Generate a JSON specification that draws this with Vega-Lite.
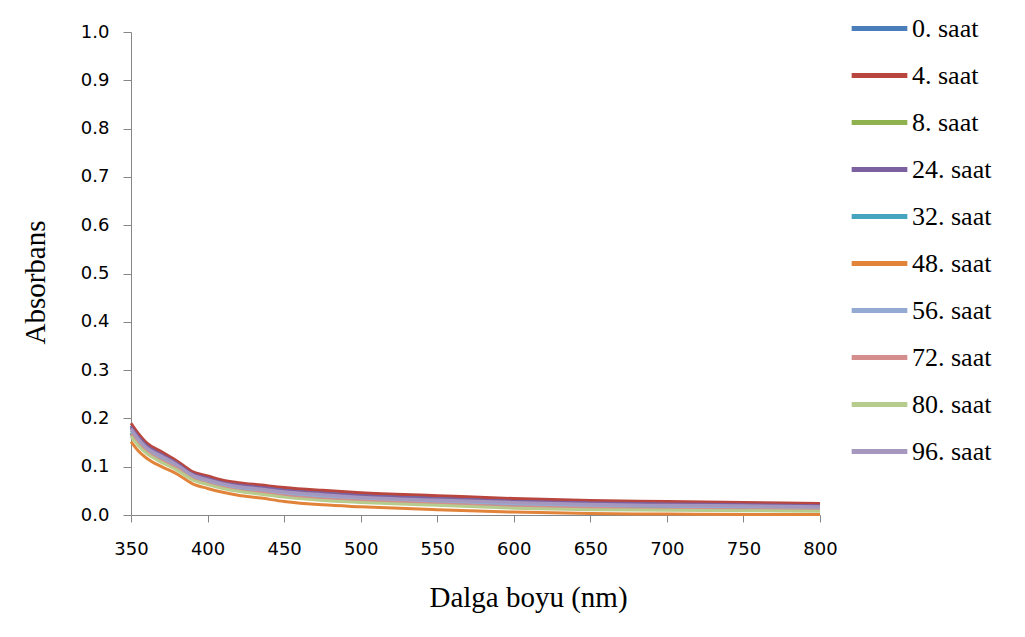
{
  "$schema": "https://vega.github.io/schema/vega-lite/v6.json",
  "width": 689,
  "height": 483,
  "autosize": {"type": "none"},
  "padding": {"left": 131, "top": 32, "right": 205, "bottom": 122},
  "background": "white",
  "data": {
    "values": [
      {"w": 350, "0 saat": 0.185, "4 saat": 0.190, "8 saat": 0.171, "24 saat": 0.182, "32 saat": 0.169, "48 saat": 0.152, "56 saat": 0.175, "72 saat": 0.167, "80 saat": 0.163, "96 saat": 0.179},
      {"w": 355, "0 saat": 0.164, "4 saat": 0.168, "8 saat": 0.150, "24 saat": 0.161, "32 saat": 0.148, "48 saat": 0.132, "56 saat": 0.154, "72 saat": 0.146, "80 saat": 0.143, "96 saat": 0.157},
      {"w": 360, "0 saat": 0.146, "4 saat": 0.150, "8 saat": 0.134, "24 saat": 0.144, "32 saat": 0.132, "48 saat": 0.118, "56 saat": 0.137, "72 saat": 0.131, "80 saat": 0.128, "96 saat": 0.140},
      {"w": 370, "0 saat": 0.127, "4 saat": 0.131, "8 saat": 0.116, "24 saat": 0.125, "32 saat": 0.114, "48 saat": 0.100, "56 saat": 0.119, "72 saat": 0.112, "80 saat": 0.109, "96 saat": 0.122},
      {"w": 380, "0 saat": 0.109, "4 saat": 0.112, "8 saat": 0.099, "24 saat": 0.107, "32 saat": 0.097, "48 saat": 0.085, "56 saat": 0.101, "72 saat": 0.096, "80 saat": 0.093, "96 saat": 0.104},
      {"w": 390, "0 saat": 0.087, "4 saat": 0.090, "8 saat": 0.078, "24 saat": 0.085, "32 saat": 0.076, "48 saat": 0.065, "56 saat": 0.080, "72 saat": 0.075, "80 saat": 0.073, "96 saat": 0.083},
      {"w": 400, "0 saat": 0.078, "4 saat": 0.081, "8 saat": 0.068, "24 saat": 0.076, "32 saat": 0.067, "48 saat": 0.055, "56 saat": 0.071, "72 saat": 0.065, "80 saat": 0.063, "96 saat": 0.073},
      {"w": 410, "0 saat": 0.069, "4 saat": 0.072, "8 saat": 0.060, "24 saat": 0.067, "32 saat": 0.058, "48 saat": 0.047, "56 saat": 0.062, "72 saat": 0.057, "80 saat": 0.055, "96 saat": 0.065},
      {"w": 420, "0 saat": 0.064, "4 saat": 0.067, "8 saat": 0.054, "24 saat": 0.062, "32 saat": 0.053, "48 saat": 0.041, "56 saat": 0.057, "72 saat": 0.051, "80 saat": 0.049, "96 saat": 0.059},
      {"w": 435, "0 saat": 0.059, "4 saat": 0.062, "8 saat": 0.049, "24 saat": 0.057, "32 saat": 0.047, "48 saat": 0.035, "56 saat": 0.051, "72 saat": 0.046, "80 saat": 0.043, "96 saat": 0.054},
      {"w": 450, "0 saat": 0.054, "4 saat": 0.057, "8 saat": 0.043, "24 saat": 0.051, "32 saat": 0.041, "48 saat": 0.028, "56 saat": 0.045, "72 saat": 0.040, "80 saat": 0.037, "96 saat": 0.048},
      {"w": 475, "0 saat": 0.047, "4 saat": 0.051, "8 saat": 0.036, "24 saat": 0.045, "32 saat": 0.035, "48 saat": 0.021, "56 saat": 0.039, "72 saat": 0.033, "80 saat": 0.030, "96 saat": 0.042},
      {"w": 500, "0 saat": 0.043, "4 saat": 0.046, "8 saat": 0.032, "24 saat": 0.040, "32 saat": 0.030, "48 saat": 0.017, "56 saat": 0.034, "72 saat": 0.029, "80 saat": 0.026, "96 saat": 0.037},
      {"w": 550, "0 saat": 0.037, "4 saat": 0.040, "8 saat": 0.026, "24 saat": 0.034, "32 saat": 0.024, "48 saat": 0.011, "56 saat": 0.028, "72 saat": 0.023, "80 saat": 0.020, "96 saat": 0.031},
      {"w": 600, "0 saat": 0.031, "4 saat": 0.034, "8 saat": 0.020, "24 saat": 0.028, "32 saat": 0.019, "48 saat": 0.006, "56 saat": 0.023, "72 saat": 0.017, "80 saat": 0.014, "96 saat": 0.026},
      {"w": 650, "0 saat": 0.027, "4 saat": 0.030, "8 saat": 0.017, "24 saat": 0.025, "32 saat": 0.015, "48 saat": 0.003, "56 saat": 0.019, "72 saat": 0.014, "80 saat": 0.011, "96 saat": 0.022},
      {"w": 700, "0 saat": 0.025, "4 saat": 0.028, "8 saat": 0.015, "24 saat": 0.023, "32 saat": 0.014, "48 saat": 0.002, "56 saat": 0.018, "72 saat": 0.012, "80 saat": 0.010, "96 saat": 0.020},
      {"w": 750, "0 saat": 0.023, "4 saat": 0.026, "8 saat": 0.014, "24 saat": 0.021, "32 saat": 0.012, "48 saat": 0.001, "56 saat": 0.016, "72 saat": 0.011, "80 saat": 0.009, "96 saat": 0.019},
      {"w": 800, "0 saat": 0.021, "4 saat": 0.024, "8 saat": 0.013, "24 saat": 0.019, "32 saat": 0.011, "48 saat": 0.001, "56 saat": 0.015, "72 saat": 0.010, "80 saat": 0.008, "96 saat": 0.017}
    ]
  },
  "transform": [
    {"fold": ["0 saat", "4 saat", "8 saat", "24 saat", "32 saat", "48 saat", "56 saat", "72 saat", "80 saat", "96 saat"], "as": ["seri", "a"]}
  ],
  "mark": {"type": "line", "strokeWidth": 3, "interpolate": "monotone"},
  "encoding": {
    "x": {
      "field": "w", "type": "quantitative",
      "scale": {"domain": [350, 800], "nice": false, "zero": false},
      "axis": {
        "title": "Dalga boyu (nm)", "values": [350, 400, 450, 500, 550, 600, 650, 700, 750, 800],
        "grid": false, "domainColor": "#868686", "tickColor": "#868686", "tickSize": 7,
        "labelFont": "DejaVu Sans", "labelFontSize": 18, "labelColor": "#000000", "labelPadding": 18, "labelFlush": false,
        "titleFont": "Liberation Serif", "titleFontSize": 29, "titleFontWeight": "normal", "titleColor": "#000000",
        "titlePadding": 25, "titleX": 397
      }
    },
    "y": {
      "field": "a", "type": "quantitative",
      "scale": {"domain": [0, 1], "nice": false},
      "axis": {
        "title": "Absorbans", "values": [0, 0.1, 0.2, 0.3, 0.4, 0.5, 0.6, 0.7, 0.8, 0.9, 1.0], "format": ".1f",
        "grid": false, "domainColor": "#868686", "tickColor": "#868686", "tickSize": 8,
        "labelFont": "DejaVu Sans", "labelFontSize": 18, "labelColor": "#000000", "labelPadding": 14,
        "titleFont": "Liberation Serif", "titleFontSize": 29, "titleFontWeight": "normal", "titleColor": "#000000",
        "titlePadding": 30, "titleY": 250
      }
    },
    "color": {
      "field": "seri", "type": "nominal",
      "scale": {
        "domain": ["0 saat", "4 saat", "8 saat", "24 saat", "32 saat", "48 saat", "56 saat", "72 saat", "80 saat", "96 saat"],
        "range": ["#4A7EBB", "#B8463F", "#8FB14E", "#7D60A0", "#46A5BE", "#E2833A", "#93ABD3", "#D48E8D", "#B5CC8E", "#A597BD"]
      },
      "legend": {
        "title": null, "orient": "none", "legendX": 718, "legendY": -34,
        "symbolType": "stroke", "symbolSize": 3100, "symbolStrokeWidth": 5,
        "labelFont": "Liberation Serif", "labelFontSize": 26, "labelColor": "#000000",
        "labelExpr": "replace(datum.label, ' ', '. ')", "labelOffset": 2, "rowPadding": 3
      }
    }
  },
  "config": {"view": {"stroke": null}, "legend": {"labelFont": "Liberation Serif"}}
}
